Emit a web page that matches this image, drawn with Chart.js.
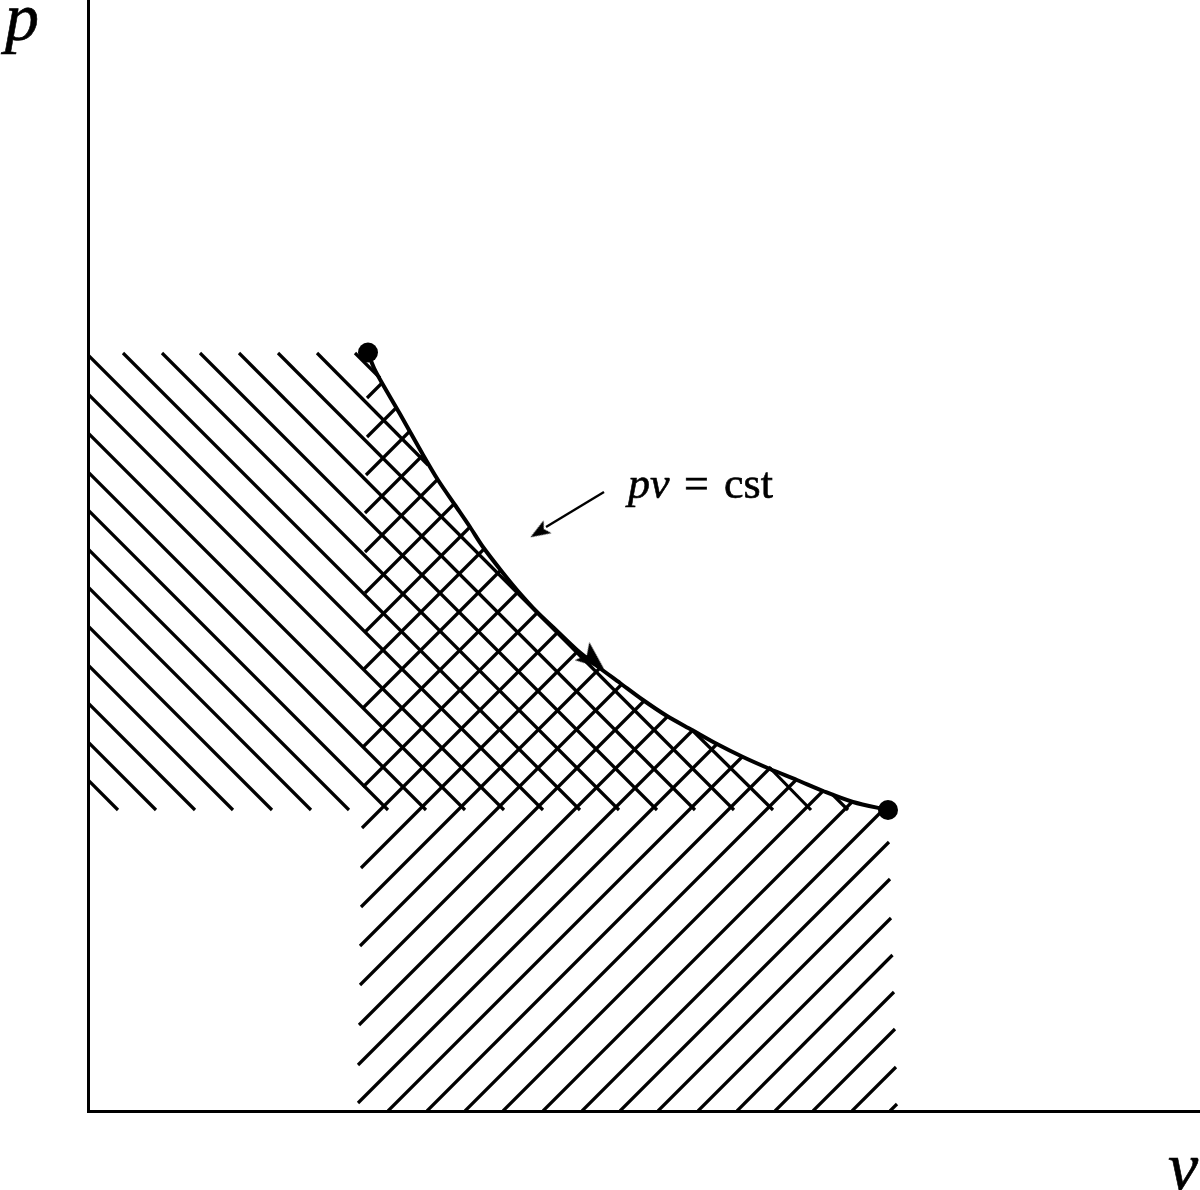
<!DOCTYPE html>
<html>
<head>
<meta charset="utf-8">
<style>
  html, body { margin: 0; padding: 0; background: #fff; }
  canvas { display: block; }
</style>
</head>
<body>
<canvas id="myChart" width="1200" height="1190"></canvas>
<script src="https://cdn.jsdelivr.net/npm/chart.js@4/dist/chart.umd.min.js"></script>
<script>
// curve pv = cst
const curveV = [280,286,294,312,334,350,367,382,395,415,429,449,469,489,509,532,555,579,604,629,655,682,709,735,765,800];
const curveP = [758,743,728,697,658,631,606,584,564,538,521,499,480,461,445,428,411,395,381,367,354,342,331,320,309,301];

// hatch going down to the right, the two lines near the start are cut by the curve
const downStartV = [744,682,267,604,229,190,151,112,74,35,0,0,0,0,0,0,0,0,0,0,0,0];
const downStartP = [317,343,758,381,758,758,758,758,758,758,756,717,678,639,601,562,524,485,446,408,369,331];
const downEndV = [760,723,292,685,340,646,607,569,531,492,455,416,377,338,300,261,223,184,145,107,68,30];
const downEndP = [301,301,733,301,646,301,301,301,301,301,301,301,301,301,301,301,301,301,301,301,301,301];

// hatch going up to the right
const upStartV = [279,279,278,277,277,277,277,275,275,275,275,274,273,273,272,272,271,270,270,300,339,377,415,455,494,532,570,610,649,687,725,764,802];
const upStartP = [713,674,636,598,559,518,479,441,403,364,324,283,243,204,165,126,86,46,8,0,0,0,0,0,0,0,0,0,0,0,0,0,0];
const upEndV = [294,308,322,335,349,366,381,396,412,430,450,471,490,511,534,556,579,605,630,654,683,708,736,764,793,801,802,803,804.5,806,807,808,809];
const upEndP = [728,703,680,656,631,607,583,562,540,519,499,480,460,442,427,410,394,381,368,354,344,331,321,309,299,269,232,193,156,119,82,44,7];

// end states and the arrows
const stateV = [280,800];
const stateP = [758.5,301];
const noteArrowV = [516,458];
const noteArrowP = [619,584];
const noteHeadV = [451];
const noteHeadP = [579];
const flowHeadV = [505];
const flowHeadP = [451];

function makeHead(len, wid) {
    const c = document.createElement("canvas");
    c.width = len;
    c.height = wid;
    const g = c.getContext("2d");
    g.fillStyle = "#000";
    g.beginPath();
    g.moveTo(len, wid / 2);
    g.lineTo(0, 0);
    g.lineTo(len * 0.22, wid / 2);
    g.lineTo(0, wid);
    g.closePath();
    g.fill();
    return c;
}

function toPoints(vs, ps) {
    return vs.map((v, i) => ({ x: v, y: ps[i] }));
}

function hatchLine(v1, p1, v2, p2) {
    return {
        data: [{ x: v1, y: p1 }, { x: v2, y: p2 }],
        borderColor: "#000",
        borderWidth: 3.2,
        pointRadius: 0,
        showLine: true
    };
}

const datasets = [];
downStartV.forEach((v, i) => datasets.push(hatchLine(v, downStartP[i], downEndV[i], downEndP[i])));
upStartV.forEach((v, i) => datasets.push(hatchLine(v, upStartP[i], upEndV[i], upEndP[i])));

datasets.push({
    data: toPoints(curveV, curveP),
    borderColor: "#000",
    borderWidth: 4,
    pointRadius: 0,
    showLine: true,
    tension: 0.3
});
datasets.push({
    data: toPoints(noteArrowV, noteArrowP),
    borderColor: "#000",
    borderWidth: 2.4,
    pointRadius: 0,
    showLine: true
});
datasets.push({
    data: toPoints(stateV, stateP),
    showLine: false,
    pointRadius: 10,
    pointBorderWidth: 0,
    pointBackgroundColor: "#000"
});
datasets.push({
    data: toPoints(noteHeadV, noteHeadP),
    showLine: false,
    pointStyle: makeHead(20, 15),
    pointRotation: 148.5
});
datasets.push({
    data: toPoints(flowHeadV, flowHeadP),
    showLine: false,
    pointStyle: makeHead(28, 23),
    pointRotation: 39
});

function label(ctx, text, x, y, font) {
    ctx.font = font;
    ctx.fillText(text, x, y);
    ctx.strokeText(text, x, y); // the original glyphs are a bit heavier
}

const labelsPlugin = {
    id: "labels",
    afterDraw(chart) {
        const ctx = chart.ctx;
        ctx.save();
        ctx.fillStyle = "#000";
        ctx.strokeStyle = "#000";
        ctx.lineWidth = 0.6;
        ctx.textBaseline = "alphabetic";
        label(ctx, "p", 5, 40, 'italic 68px "Liberation Serif"');
        label(ctx, "v", 1168, 1189, 'italic 68px "Liberation Serif"');
        label(ctx, "pv", 628, 498, 'italic 44px "Liberation Serif"');
        label(ctx, "=", 684, 498, '44px "Liberation Serif"');
        label(ctx, "cst", 724, 498, '44px "Liberation Serif"');
        ctx.restore();
    }
};

new Chart(document.getElementById("myChart").getContext("2d"), {
    type: "scatter",
    data: { datasets: datasets },
    plugins: [labelsPlugin],
    options: {
        responsive: false,
        animation: false,
        layout: { autoPadding: false, padding: { left: 88, top: 0, right: 0, bottom: 79 } },
        plugins: { legend: { display: false }, tooltip: { enabled: false } },
        elements: { line: { borderCapStyle: "butt" } },
        scales: {
            x: {
                type: "linear",
                min: 0,
                max: 1112,
                grid: { display: false, drawTicks: false, tickLength: 0 },
                ticks: { display: false },
                border: { color: "#000", width: 3 }
            },
            y: {
                type: "linear",
                min: 0,
                max: 1111,
                grid: { display: false, drawTicks: false, tickLength: 0 },
                ticks: { display: false },
                border: { color: "#000", width: 3 }
            }
        }
    }
});
</script>
</body>
</html>
